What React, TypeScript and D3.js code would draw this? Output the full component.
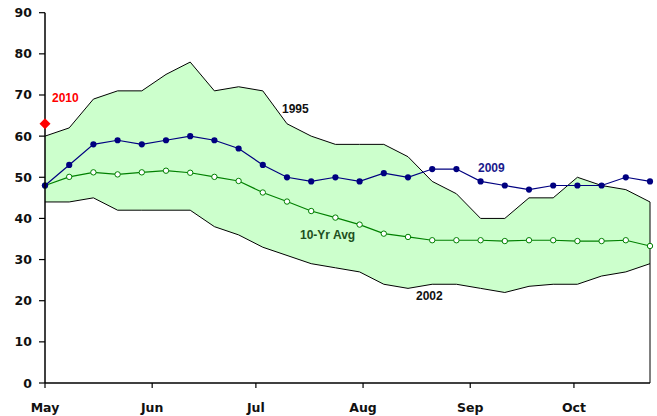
import React from "react";
import * as d3 from "d3";

const weeks = [
  "2010-05-01", "2010-05-08", "2010-05-15", "2010-05-22", "2010-05-29",
  "2010-06-05", "2010-06-12", "2010-06-19", "2010-06-26",
  "2010-07-03", "2010-07-10", "2010-07-17", "2010-07-24", "2010-07-31",
  "2010-08-07", "2010-08-14", "2010-08-21", "2010-08-28",
  "2010-09-04", "2010-09-11", "2010-09-18", "2010-09-25",
  "2010-10-02", "2010-10-09", "2010-10-16", "2010-10-23",
];
const high1995 = [60, 62, 69, 71, 71, 75, 78, 71, 72, 71, 63, 60, 58, 58, 58, 55, 49, 46, 40, 40, 45, 45, 50, 48, 47, 44];
const low2002 = [44, 44, 45, 42, 42, 42, 42, 38, 36, 33, 31, 29, 28, 27, 24, 23, 24, 24, 23, 22, 23.5, 24, 24, 26, 27, 29];
const avg10 = [48, 50.1, 51.2, 50.7, 51.2, 51.6, 51.1, 50.1, 49.1, 46.3, 44.1, 41.8, 40.2, 38.5, 36.3, 35.5, 34.7, 34.7, 34.7, 34.5, 34.7, 34.7, 34.5, 34.5, 34.7, 33.3];
const y2009 = [48, 53, 58, 59, 58, 59, 60, 59, 57, 53, 50, 49, 50, 49, 51, 50, 52, 52, 49, 48, 47, 48, 48, 48, 50, 49];
const point2010 = { date: "2010-05-01", value: 63 };
const yTicks = [0, 10, 20, 30, 40, 50, 60, 70, 80, 90];

const W = 657;
const H = 416;
const FONT = "'DejaVu Sans', Verdana, sans-serif";
const LFONT = "'Liberation Sans', Arial, sans-serif";

export default function App() {
  const parse = d3.timeParse("%Y-%m-%d");
  const dates = weeks.map((d) => parse(d) as Date);
  const x = d3
    .scaleTime()
    .domain([dates[0], dates[dates.length - 1]])
    .range([45, 650]);
  const y = d3.scaleLinear().domain([0, 90]).range([383, 12.7]);

  const rows = dates.map((d, i) => ({
    d,
    hi: high1995[i],
    lo: low2002[i],
    avg: avg10[i],
    v09: y2009[i],
  }));

  const area = d3
    .area<any>()
    .x((r) => x(r.d))
    .y0((r) => y(r.lo))
    .y1((r) => y(r.hi));
  const line = (key: string) =>
    d3
      .line<any>()
      .x((r) => x(r.d))
      .y((r) => y(r[key]))(rows) as string;

  const monthTicks = d3.timeMonth.range(dates[0], d3.timeDay.offset(dates[dates.length - 1], 1));
  const fmt = d3.timeFormat("%b");
  const last = rows[rows.length - 1];
  const d2010 = parse(point2010.date) as Date;
  const dx = x(d2010);
  const dy = y(point2010.value);

  return (
    <svg width={W} height={H} style={{ position: "absolute", left: 0, top: 0, background: "#fff" }}>
      <path d={area(rows) as string} fill="#CCFFCC" stroke="none" />
      <path d={line("hi")} fill="none" stroke="#000" strokeWidth={1} />
      <path d={line("lo")} fill="none" stroke="#000" strokeWidth={1} />
      <line x1={x(last.d)} x2={x(last.d)} y1={y(last.hi)} y2={y(0)} stroke="#000" strokeWidth={1} />

      <path d={line("avg")} fill="none" stroke="#008000" strokeWidth={1.2} />
      {rows.map((r, i) => (
        <circle key={"a" + i} cx={x(r.d)} cy={y(r.avg)} r={2.7} fill="#fff" stroke="#008000" strokeWidth={1} />
      ))}
      <path d={line("v09")} fill="none" stroke="#000080" strokeWidth={1.2} />
      {rows.map((r, i) => (
        <circle key={"b" + i} cx={x(r.d)} cy={y(r.v09)} r={3.1} fill="#000080" />
      ))}

      {/* axes */}
      <line x1={45} x2={45} y1={y(90)} y2={y(0)} stroke="#000" strokeWidth={1.5} />
      <line x1={45} x2={650} y1={y(0)} y2={y(0)} stroke="#000" strokeWidth={1.5} />
      {yTicks.map((t) => (
        <g key={"yt" + t}>
          <line x1={39} x2={45} y1={y(t)} y2={y(t)} stroke="#000" strokeWidth={1.2} />
          <text
            x={32}
            y={y(t)}
            dy="0.36em"
            textAnchor="end"
            fontFamily={FONT}
            fontWeight="bold"
            fontSize={12.5}
            fill="#111"
          >
            {t}
          </text>
        </g>
      ))}
      {monthTicks.map((m, i) => (
        <g key={"xt" + i}>
          <line x1={x(m)} x2={x(m)} y1={y(0)} y2={y(0) + 5} stroke="#000" strokeWidth={1.2} />
          <text
            x={x(m)}
            y={412}
            textAnchor="middle"
            fontFamily={FONT}
            fontWeight="bold"
            fontSize={12.5}
            fill="#111"
          >
            {fmt(m)}
          </text>
        </g>
      ))}

      <path
        d={`M${dx},${dy - 5.5}L${dx + 5.5},${dy}L${dx},${dy + 5.5}L${dx - 5.5},${dy}Z`}
        fill="#FF0000"
      />

      <text x={52} y={102} fontFamily={LFONT} fontWeight="bold" fontSize={12} fill="#FF0000">2010</text>
      <text x={282} y={113} fontFamily={LFONT} fontWeight="bold" fontSize={12} fill="#111">1995</text>
      <text x={478} y={172} fontFamily={LFONT} fontWeight="bold" fontSize={12} fill="#1a1a8c">2009</text>
      <text x={300} y={239} fontFamily={LFONT} fontWeight="bold" fontSize={12} fill="#205020">10-Yr Avg</text>
      <text x={416} y={300} fontFamily={LFONT} fontWeight="bold" fontSize={12} fill="#111">2002</text>
    </svg>
  );
}
